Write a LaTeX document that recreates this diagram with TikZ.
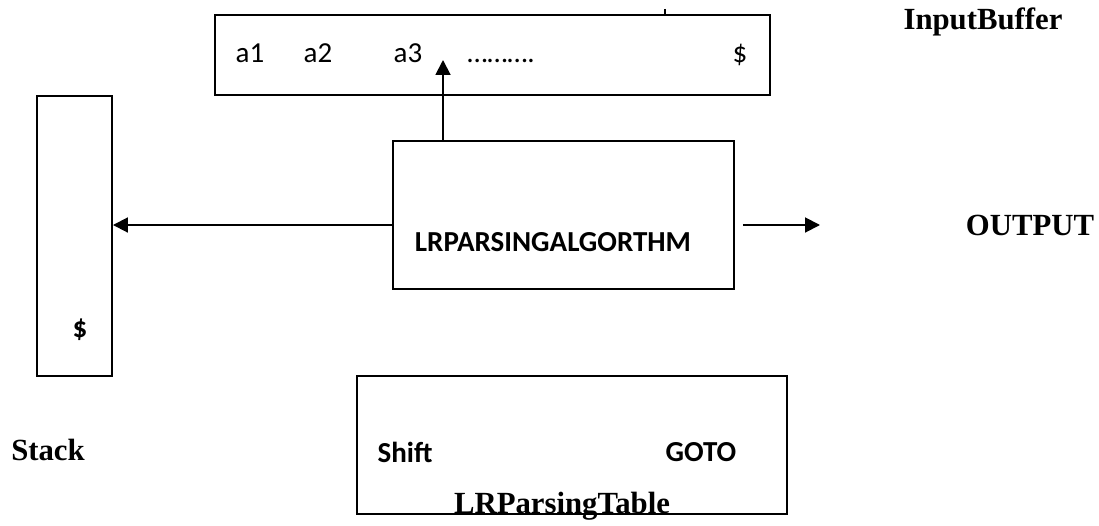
\documentclass[tikz,border=0pt]{standalone}
\usepackage{fontspec}
\setmainfont{Liberation Serif}
\newfontfamily\calibri{Carlito}
\usetikzlibrary{arrows.meta}
\tikzset{
  box/.style={draw, line width=1.1pt, rectangle, inner sep=0pt},
  arr/.style={line width=1.1pt, -{Triangle[length=8.5pt,width=8.5pt]}},
  lbl/.style={font=\fontsize{17.5}{20}\selectfont\bfseries},
  cal/.style={font=\fontsize{16.5}{19}\selectfont\calibri},
  calb/.style={font=\fontsize{16.5}{19}\selectfont\calibri\bfseries}
}

\begin{document}
\begin{tikzpicture}

% ============================================================
% Canvas: 1cm = 50px of the original
% ============================================================
\useasboundingbox (0,0) rectangle (21.98,10.5);

% --- Boxes
\node[box, minimum width=11.1cm, minimum height=1.6cm] (buffer) at (9.85, 9.4) {};
\node[box, minimum width=1.5cm, minimum height=5.6cm] (stack) at (1.49, 5.78) {};
\node[box, minimum width=6.82cm, minimum height=2.96cm] (alg) at (11.27, 6.2) {};
\node[box, minimum width=8.6cm, minimum height=2.76cm] (table) at (11.44, 1.6) {};

% small tick above the buffer
\draw[line width=1.1pt] (13.3, 10.32) -- (buffer.north -| 13.3, 0);

% --- Input symbols
\node[cal, anchor=base] (sa1) at (5.0, 9.24) {a1};
\node[cal, anchor=base] (sa2) at (6.36, 9.24) {a2};
\node[cal, anchor=base] (sa3) at (8.16, 9.24) {a3};
\node[cal, anchor=base] (sdots) at (10.02, 9.24) {……….};
\node[cal, anchor=base] (send) at (14.8, 9.24) {\$};

% --- Box contents
\node[calb] (sbottom) at (1.6, 3.9) {\$};
\node[calb] (algtext) at (11.06, 5.66) {LRPARSINGALGORTHM};
\node[calb] (shift) at (8.1, 1.46) {Shift};
\node[calb] (goto) at (14.02, 1.46) {GOTO};
\node[lbl, anchor=base] (tabletext) at (11.24, 0.23) {LRParsingTable};

% --- Outside labels
\node[lbl] (inlabel) at (19.66, 10.06) {InputBuffer};
\node[lbl] (stacklabel) at (0.96, 1.5) {Stack};
\node[lbl] (output) at (20.6, 6.0) {OUTPUT};

% --- Connectors
\coordinate (ptr) at (8.86, 9.3);
\coordinate (outtip) at (16.4, 6.0);
\draw[arr] (alg.north -| ptr) -- (ptr);
\draw[arr] (alg.west |- output) -- (stack.east |- output);
\draw[arr] ([xshift=0.16cm]alg.east |- output) -- (outtip);

\end{tikzpicture}
\end{document}
